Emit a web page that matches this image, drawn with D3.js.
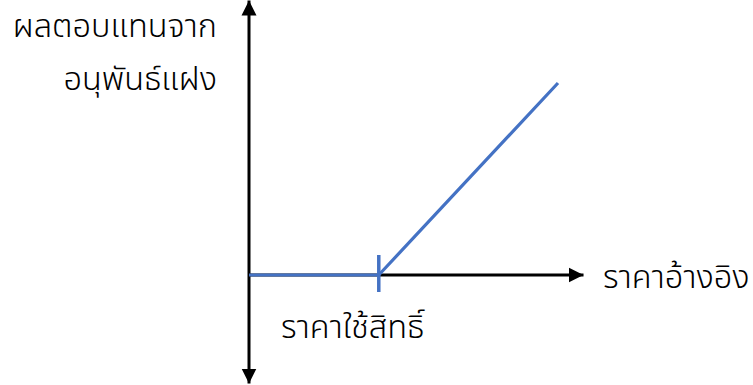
<!DOCTYPE html>
<html>
<head>
<meta charset="utf-8">
<script src="https://cdn.jsdelivr.net/npm/d3@7"></script>
<style>
html,body{margin:0;padding:0;background:#fff;}
svg{display:block;}
text{font-family:"Noto Sans","Noto Sans Thai","Leelawadee UI",sans-serif;fill:#000;font-weight:300;}
</style>
</head>
<body>
<svg id="chart" width="753" height="385"></svg>
<script>
// Data (payoff of an embedded call option)
const underlyingPrices = [0, 42, 100];
const payoffValues = [0, 0, 58];
const strikePrice = 42;
const yLabelLines = ["ผลตอบแทนจาก", "อนุพันธ์แฝง"];
const xLabel = "ราคาอ้างอิง";
const strikeLabel = "ราคาใช้สิทธิ์";

const svg = d3.select("#chart");
const x = d3.scaleLinear().domain([0, 100]).range([249, 558]);
const y = d3.scaleLinear().domain([0, 58]).range([275, 83]);

const defs = svg.append("defs");
defs.append("marker").attr("id","arr").attr("viewBox","0 0 10 10")
  .attr("refX",10).attr("refY",5).attr("markerWidth",15).attr("markerHeight",16)
  .attr("markerUnits","userSpaceOnUse").attr("orient","auto-start-reverse")
  .append("path").attr("d","M0,0L10,5L0,10Z").attr("fill","#000");

// vertical axis (both ends arrowed)
svg.append("line").attr("x1",x(0)).attr("x2",x(0))
  .attr("y1",0.5).attr("y2",383.5)
  .attr("stroke","#000").attr("stroke-width",3)
  .attr("marker-start","url(#arr)").attr("marker-end","url(#arr)");

// horizontal axis
svg.append("line").attr("x1",x(0)).attr("x2",583.5)
  .attr("y1",y(0)).attr("y2",y(0))
  .attr("stroke","#000").attr("stroke-width",3)
  .attr("marker-end","url(#arr)");

// payoff line
const line = d3.line().x((d,i)=>x(underlyingPrices[i])).y((d,i)=>y(payoffValues[i]));
svg.append("path").datum(payoffValues).attr("d",line)
  .attr("fill","none").attr("stroke","#4472C4").attr("stroke-width",3.2);

// strike tick
svg.append("line").attr("x1",x(strikePrice)).attr("x2",x(strikePrice))
  .attr("y1",y(0)-20).attr("y2",y(0)+17)
  .attr("stroke","#4472C4").attr("stroke-width",3.5);

// labels
svg.selectAll("text.yl").data(yLabelLines).enter().append("text")
  .attr("class","yl").attr("x",217).attr("y",(d,i)=>37+i*53)
  .attr("text-anchor","end").attr("font-size",32.5).text(d=>d);
svg.append("text").attr("x",603).attr("y",288).attr("font-size",32.5).text(xLabel);
svg.append("text").attr("x",281).attr("y",338).attr("font-size",32.5).text(strikeLabel);
</script>
</body>
</html>
